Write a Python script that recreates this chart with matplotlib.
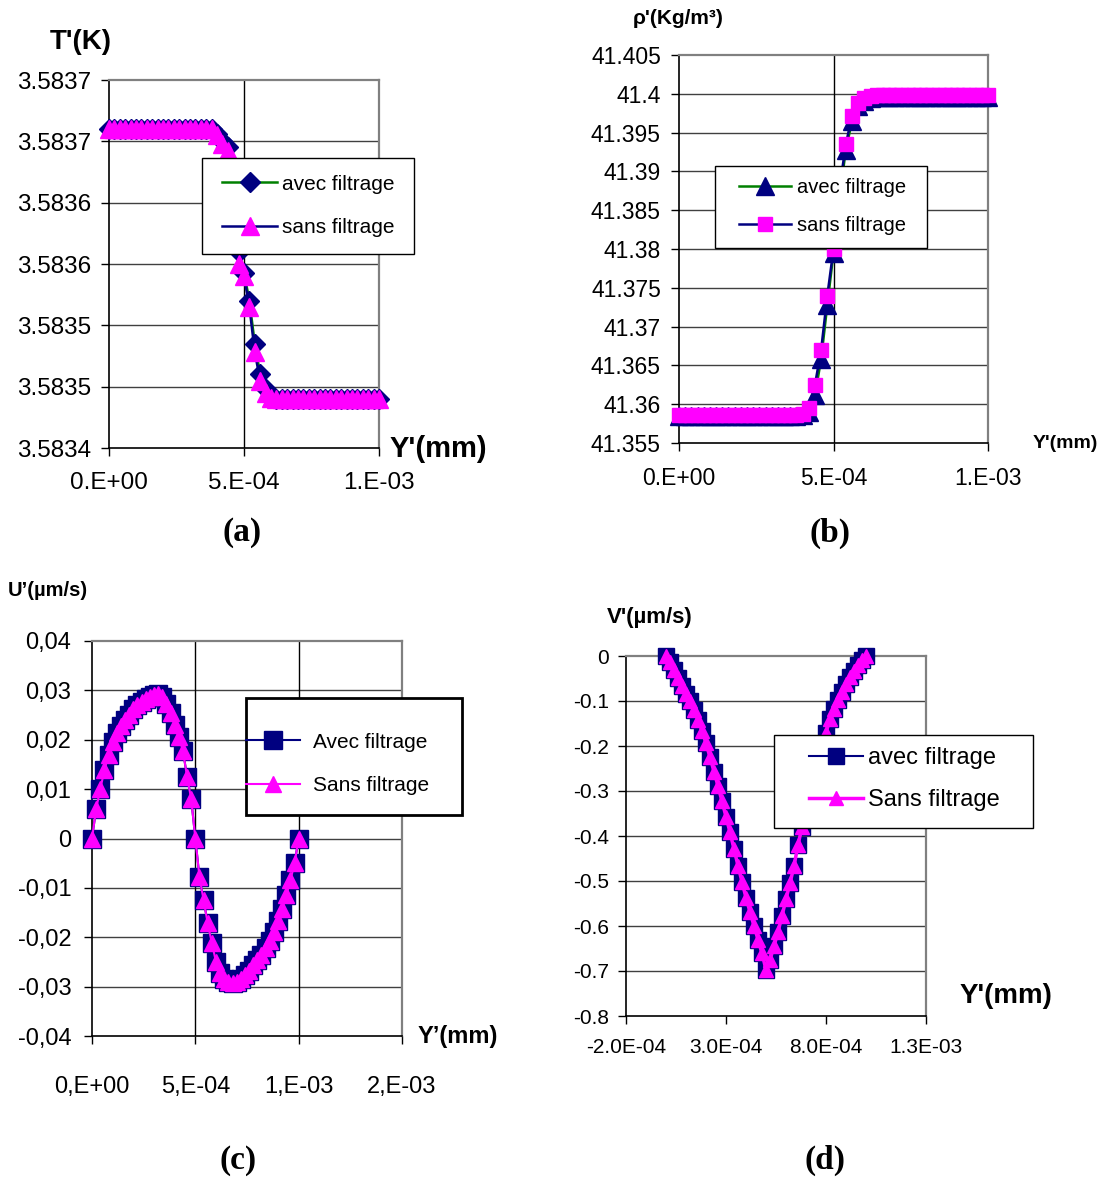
import matplotlib
matplotlib.use("Agg")
import matplotlib.pyplot as plt
from matplotlib.patches import Rectangle

plt.rcParams['font.family'] = ['Liberation Sans', 'DejaVu Sans']

# abscissa Y' in units of 1e-4 mm
Y_GRID = [0.0, 0.2, 0.4, 0.6, 0.8, 1.0, 1.2, 1.4, 1.6, 1.8,
          2.0, 2.2, 2.4, 2.6, 2.8, 3.0, 3.2, 3.4, 3.6, 3.8,
          4.0, 4.2, 4.4, 4.6, 4.8, 5.0, 5.2, 5.4, 5.6, 5.8,
          6.0, 6.2, 6.4, 6.6, 6.8, 7.0, 7.2, 7.4, 7.6, 7.8,
          8.0, 8.2, 8.4, 8.6, 8.8, 9.0, 9.2, 9.4, 9.6, 9.8, 10.0]

# (a) temperature
T_AVEC = [3.58366, 3.58366, 3.58366, 3.58366, 3.58366, 3.58366, 3.58366, 3.58366, 3.58366, 3.58366,
          3.58366, 3.58366, 3.58366, 3.58366, 3.58366, 3.58366, 3.58366, 3.58366, 3.58366, 3.58366,
          3.583656, 3.58365, 3.583645, 3.58363, 3.58356, 3.583543, 3.58352, 3.583485, 3.58346, 3.583448,
          3.583442, 3.58344, 3.58344, 3.58344, 3.58344, 3.58344, 3.58344, 3.58344, 3.58344, 3.58344,
          3.58344, 3.58344, 3.58344, 3.58344, 3.58344, 3.58344, 3.58344, 3.58344, 3.58344, 3.58344, 3.58344]
T_SANS = [3.58366, 3.58366, 3.58366, 3.58366, 3.58366, 3.58366, 3.58366, 3.58366, 3.58366, 3.58366,
          3.58366, 3.58366, 3.58366, 3.58366, 3.58366, 3.58366, 3.58366, 3.58366, 3.58366, 3.58366,
          3.583655, 3.583648, 3.583642, 3.583625, 3.58355, 3.58354, 3.583515, 3.583478, 3.583455, 3.583445,
          3.583441, 3.58344, 3.58344, 3.58344, 3.58344, 3.58344, 3.58344, 3.58344, 3.58344, 3.58344,
          3.58344, 3.58344, 3.58344, 3.58344, 3.58344, 3.58344, 3.58344, 3.58344, 3.58344, 3.58344, 3.58344]
T_TICKS = [3.5834, 3.58345, 3.5835, 3.58355, 3.5836, 3.58365, 3.5837]
T_LABELS = ['3.5834', '3.5835', '3.5835', '3.5836', '3.5836', '3.5837', '3.5837']

# (b) density
RHO_AVEC = [41.3585, 41.3585, 41.3585, 41.3585, 41.3585, 41.3585, 41.3585, 41.3585, 41.3585, 41.3585,
            41.3585, 41.3585, 41.3585, 41.3585, 41.3585, 41.3585, 41.3585, 41.3585, 41.3585, 41.3585,
            41.3586, 41.3590, 41.3612, 41.3658, 41.3728, 41.3795, 41.3868, 41.3928, 41.3965, 41.3984,
            41.3991, 41.3994, 41.3996, 41.3996, 41.3996, 41.3996, 41.3996, 41.3996, 41.3996, 41.3996,
            41.3996, 41.3996, 41.3996, 41.3996, 41.3996, 41.3996, 41.3996, 41.3996, 41.3996, 41.3996, 41.3996]
RHO_SANS = [41.3586, 41.3586, 41.3586, 41.3586, 41.3586, 41.3586, 41.3586, 41.3586, 41.3586, 41.3586,
            41.3586, 41.3586, 41.3586, 41.3586, 41.3586, 41.3586, 41.3586, 41.3586, 41.3586, 41.3586,
            41.3588, 41.3595, 41.3625, 41.3670, 41.3740, 41.3800, 41.3880, 41.3935, 41.3972, 41.3988,
            41.3994, 41.3997, 41.3998, 41.3998, 41.3998, 41.3998, 41.3998, 41.3998, 41.3998, 41.3998,
            41.3998, 41.3998, 41.3998, 41.3998, 41.3998, 41.3998, 41.3998, 41.3998, 41.3998, 41.3998, 41.3998]
RHO_TICKS = [41.355, 41.36, 41.365, 41.37, 41.375, 41.38, 41.385, 41.39, 41.395, 41.4, 41.405]
RHO_LABELS = ['41.355', '41.36', '41.365', '41.37', '41.375', '41.38',
              '41.385', '41.39', '41.395', '41.4', '41.405']

# (c) U' velocity
U_AVEC = [0.0, 0.0060, 0.0100, 0.0138, 0.0170, 0.0195, 0.0213, 0.0227, 0.0240, 0.0251,
          0.0262, 0.0270, 0.0277, 0.0282, 0.0287, 0.0291, 0.0292, 0.0286, 0.0273, 0.0254,
          0.0230, 0.0205, 0.0178, 0.0125, 0.0080, 0.0, -0.0078, -0.0125, -0.0172, -0.0212,
          -0.0250, -0.0272, -0.0284, -0.0290, -0.0292, -0.0290, -0.0285, -0.0277, -0.0268, -0.0257,
          -0.0247, -0.0236, -0.0222, -0.0207, -0.0190, -0.0168, -0.0142, -0.0115, -0.0085, -0.0050, 0.0]
U_SANS = [0.0, 0.0060, 0.0100, 0.0138, 0.0170, 0.0195, 0.0213, 0.0227, 0.0240, 0.0251,
          0.0262, 0.0270, 0.0277, 0.0282, 0.0287, 0.0291, 0.0292, 0.0286, 0.0273, 0.0254,
          0.0230, 0.0205, 0.0178, 0.0125, 0.0080, 0.0, -0.0078, -0.0125, -0.0172, -0.0212,
          -0.0250, -0.0272, -0.0284, -0.0290, -0.0292, -0.0290, -0.0285, -0.0277, -0.0268, -0.0257,
          -0.0247, -0.0236, -0.0222, -0.0207, -0.0190, -0.0168, -0.0142, -0.0115, -0.0085, -0.0050, 0.0]
U_TICKS = [-0.04, -0.03, -0.02, -0.01, 0.0, 0.01, 0.02, 0.03, 0.04]
U_LABELS = ['-0,04', '-0,03', '-0,02', '-0,01', '0', '0,01', '0,02', '0,03', '0,04']

# (d) V' velocity
V_AVEC = [0.0, -0.013, -0.030, -0.048, -0.066, -0.084, -0.101, -0.120, -0.142, -0.166,
          -0.194, -0.225, -0.257, -0.289, -0.323, -0.357, -0.392, -0.429, -0.466, -0.502,
          -0.537, -0.569, -0.600, -0.630, -0.661, -0.697, -0.675, -0.645, -0.613, -0.578,
          -0.540, -0.505, -0.467, -0.420, -0.380, -0.342, -0.305, -0.270, -0.235, -0.200,
          -0.170, -0.141, -0.117, -0.097, -0.079, -0.063, -0.047, -0.033, -0.020, -0.009, 0.0]
V_SANS = [0.0, -0.013, -0.030, -0.048, -0.066, -0.084, -0.101, -0.120, -0.142, -0.166,
          -0.194, -0.225, -0.257, -0.289, -0.323, -0.357, -0.392, -0.429, -0.466, -0.502,
          -0.537, -0.569, -0.600, -0.630, -0.661, -0.697, -0.675, -0.645, -0.613, -0.578,
          -0.540, -0.505, -0.467, -0.420, -0.380, -0.342, -0.305, -0.270, -0.235, -0.200,
          -0.170, -0.141, -0.117, -0.097, -0.079, -0.063, -0.047, -0.033, -0.020, -0.009, 0.0]
V_TICKS = [-0.8, -0.7, -0.6, -0.5, -0.4, -0.3, -0.2, -0.1, 0.0]
V_LABELS = ['-0.8', '-0.7', '-0.6', '-0.5', '-0.4', '-0.3', '-0.2', '-0.1', '0']

X_TICKS_AB = [0.0, 5e-4, 1e-3]
X_LABELS_AB = ['0.E+00', '5.E-04', '1.E-03']
X_TICKS_C = [0.0, 5e-4, 1e-3, 1.5e-3]
X_LABELS_C = ['0,E+00', '5,E-04', '1,E-03', '2,E-03']
X_TICKS_D = [-2e-4, 3e-4, 8e-4, 1.3e-3]
X_LABELS_D = ['-2.0E-04', '3.0E-04', '8.0E-04', '1.3E-03']

NAVY = '#000080'
MAGENTA = '#FF00FF'
GREEN = '#008000'

W, H = 1105, 1178
fig = plt.figure(figsize=(W / 100, H / 100), dpi=100)

x = [v * 1e-4 for v in Y_GRID]


def box(l, t, r, b):
    return [l / W, 1 - b / H, (r - l) / W, (b - t) / H]


def style(ax, xticks, xlabels, yticks, ylabels, vgrid, fs, xpad, ypad):
    ax.set_xlim(xticks[0], xticks[-1])
    ax.set_ylim(yticks[0], yticks[-1])
    ax.set_xticks(xticks)
    ax.set_xticklabels(xlabels)
    ax.set_yticks(yticks)
    ax.set_yticklabels(ylabels)
    for yv in yticks[1:-1]:
        ax.axhline(yv, color='#404040', lw=1.0, zorder=1)
    for xv in vgrid:
        ax.axvline(xv, color='black', lw=1.0, zorder=1)
    for s in ['top', 'right']:
        ax.spines[s].set_color('#808080')
        ax.spines[s].set_linewidth(1.6)
    for s in ['left', 'bottom']:
        ax.spines[s].set_color('black')
        ax.spines[s].set_linewidth(1.2)
    ax.tick_params(direction='out', length=6, width=1.0, labelsize=fs)
    ax.tick_params(axis='x', pad=xpad)
    ax.tick_params(axis='y', pad=ypad)


def legend(handles, labels, ax_pt, frame, fs, hl, htp, ls, frame_lw=1.0):
    l, t, r, b = frame
    fig.patches.append(Rectangle((l / W, 1 - b / H), (r - l) / W, (b - t) / H,
                                 transform=fig.transFigure, facecolor='white',
                                 edgecolor='black', lw=frame_lw, zorder=4))
    fig.legend(handles, labels, loc='center left',
               bbox_to_anchor=(ax_pt[0] / W, 1 - ax_pt[1] / H),
               frameon=False, borderpad=0, borderaxespad=0, fontsize=fs,
               handlelength=hl, handletextpad=htp, labelspacing=ls, numpoints=1)


# (a)
ax_a = fig.add_axes(box(109, 80, 379, 448))
ha1, = ax_a.plot(x, T_AVEC, color=GREEN, lw=1.8, marker='D', ms=10,
                 mfc=NAVY, mec=NAVY, clip_on=False, zorder=3)
ha2, = ax_a.plot(x, T_SANS, color=NAVY, lw=1.8, marker='^', ms=13,
                 mfc=MAGENTA, mec=MAGENTA, clip_on=False, zorder=4)
style(ax_a, X_TICKS_AB, X_LABELS_AB, T_TICKS, T_LABELS, [5e-4], 17.5, 11, 7)
legend([ha1, ha2], ['avec filtrage', 'sans filtrage'], (222, 206),
       (202, 158, 414, 254), 15, 2.64, 0.24, 1.19)
fig.text(50 / W, 1 - 42 / H, "T'(K)", fontsize=20, fontweight='bold', va='center')
fig.text(390 / W, 1 - 449 / H, "Y'(mm)", fontsize=21, fontweight='bold', va='center')

# (b)
ax_b = fig.add_axes(box(679, 55, 988, 443))
hb1, = ax_b.plot(x, RHO_AVEC, color=GREEN, lw=1.8, marker='^', ms=13,
                 mfc=NAVY, mec=NAVY, clip_on=False, zorder=3)
hb2, = ax_b.plot(x, RHO_SANS, color=NAVY, lw=1.8, marker='s', ms=9.5,
                 mfc=MAGENTA, mec=MAGENTA, clip_on=False, zorder=4)
style(ax_b, X_TICKS_AB, X_LABELS_AB, RHO_TICKS, RHO_LABELS, [5e-4], 16.5, 11, 7)
legend([hb1, hb2], ['avec filtrage', 'sans filtrage'], (739, 206.5),
       (715, 166, 927, 248), 14.5, 2.59, 0.3, 0.92)
fig.text(633 / W, 1 - 18 / H, "ρ'(Kg/m³)", fontsize=15, fontweight='bold', va='center')
fig.text(1033 / W, 1 - 443 / H, "Y'(mm)", fontsize=14, fontweight='bold', va='center')

# (c)
ax_c = fig.add_axes(box(92, 641, 402, 1036))
hc1, = ax_c.plot(x, U_AVEC, color=NAVY, lw=1.5, marker='s', ms=13,
                 mfc=NAVY, mec=NAVY, clip_on=False, zorder=3)
hc2, = ax_c.plot(x, U_SANS, color=MAGENTA, lw=1.5, marker='^', ms=11,
                 mfc=MAGENTA, mec=MAGENTA, clip_on=False, zorder=4)
style(ax_c, X_TICKS_C, X_LABELS_C, U_TICKS, U_LABELS, [5e-4, 1e-3], 17, 23, 9)
legend([hc1, hc2], ['Avec filtrage', 'Sans filtrage'], (246, 764),
       (246, 698, 462, 815), 15, 2.6, 0.62, 1.19, frame_lw=2.0)
fig.text(8 / W, 1 - 590 / H, "U\u2019(µm/s)", fontsize=14.5, fontweight='bold', va='center')
fig.text(418 / W, 1 - 1037 / H, "Y\u2019(mm)", fontsize=17, fontweight='bold', va='center')

# (d)
ax_d = fig.add_axes(box(626, 656, 926, 1016))
hd1, = ax_d.plot(x, V_AVEC, color=NAVY, lw=1.5, marker='s', ms=12,
                 mfc=NAVY, mec=NAVY, clip_on=False, zorder=3)
hd2, = ax_d.plot(x, V_SANS, color=MAGENTA, lw=2.5, marker='^', ms=10,
                 mfc=MAGENTA, mec=MAGENTA, clip_on=False, zorder=4)
style(ax_d, X_TICKS_D, X_LABELS_D, V_TICKS, V_LABELS, [], 15, 10, 6)
legend([hd1, hd2], ['avec filtrage', 'Sans filtrage'], (809, 779),
       (774, 735, 1033, 828), 17, 2.29, 0.21, 0.83)
fig.text(607 / W, 1 - 618 / H, "V'(µm/s)", fontsize=16, fontweight='bold', va='center')
fig.text(960 / W, 1 - 996 / H, "Y'(mm)", fontsize=20, fontweight='bold', va='center')

# panel captions
for cx, cy, lab in [(242, 533, '(a)'), (830, 533, '(b)'), (238, 1160, '(c)'), (825, 1160, '(d)')]:
    fig.text(cx / W, 1 - cy / H, lab, fontsize=24, fontweight='bold',
             family='Liberation Serif', ha='center', va='center')

fig.savefig('out.png', dpi=100)
